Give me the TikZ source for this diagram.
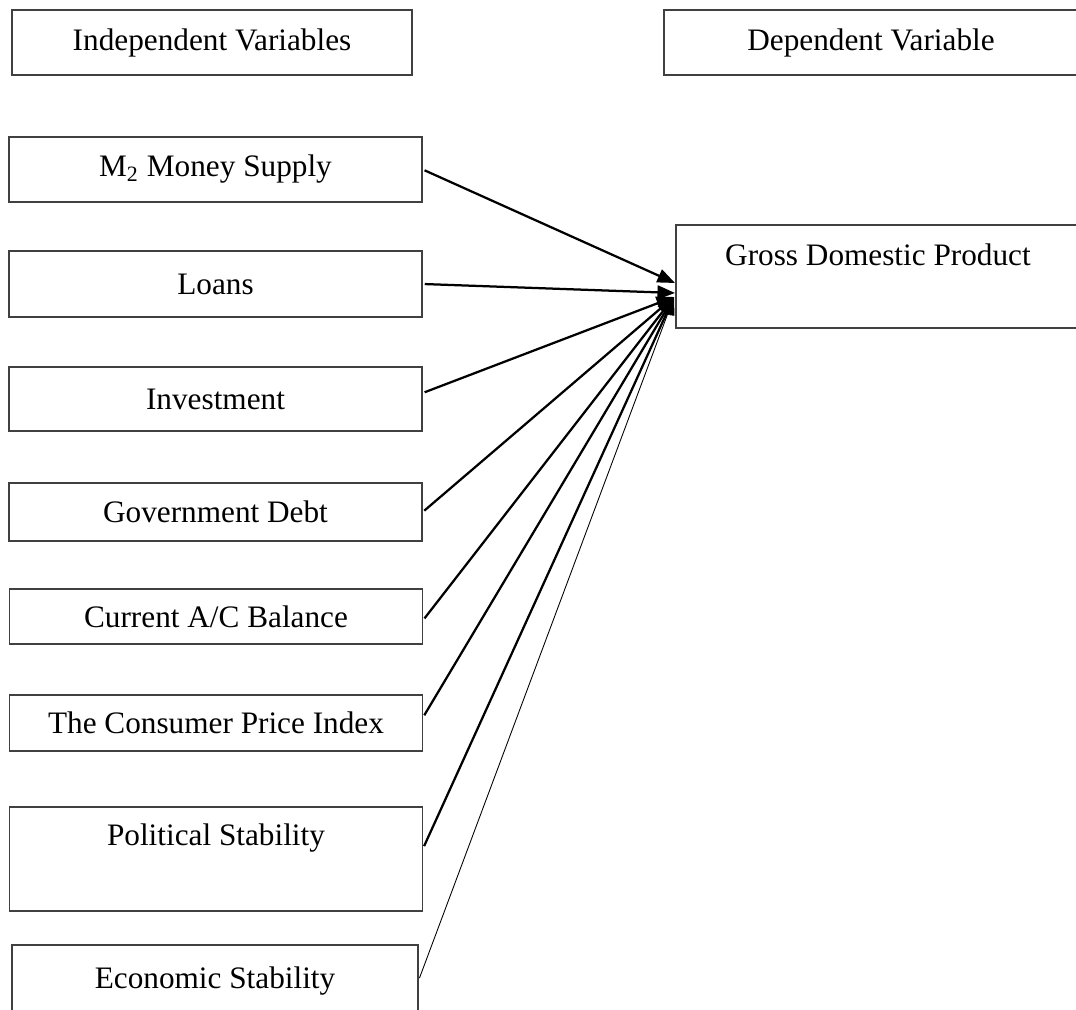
\documentclass[tikz,border=0pt]{standalone}
\usepackage{fontspec}
\setmainfont{Liberation Serif}
\usepackage{tikz}
\usetikzlibrary{arrows.meta}

\begin{document}
\begin{tikzpicture}[x=0.4pt, y=-0.4pt,
    every node/.style={font=\fontsize{12.5}{15}\selectfont},
    varbox/.style={draw=black!75, line width=0.6pt, inner sep=0pt, minimum width=165.2pt},
    topbox/.style={varbox, minimum height=26pt},
    flow/.style={line width=0.9pt, shorten <=0.8pt, -{Triangle[length=7pt, width=5.5pt]}}]
    \useasboundingbox (0,0) rectangle (1076,1010);
    % headings
    \node[topbox, minimum width=160pt] (indep) at (212,42.5) {Independent Variables};
    \node[topbox, minimum width=165.6pt] (dep) at (871,42.5) {Dependent Variable};
    % independent variables
    \node[varbox, minimum height=26pt] (m2) at (215.5,169.5) {M\textsubscript{2} Money Supply};
    \node[varbox, minimum height=26.4pt] (loans) at (215.5,284) {Loans};
    \node[varbox, minimum height=25.6pt] (invest) at (215.5,399) {Investment};
    \node[varbox, minimum height=23.2pt] (debt) at (215.5,512) {Government Debt};
    \node[varbox, minimum height=22pt] (account) at (216,616.5) {Current A/C Balance};
    \node[varbox, minimum height=22.4pt] (cpi) at (216,723) {The Consumer Price Index};
    \node[varbox, minimum height=41.6pt, text depth=19.2pt] (polstab) at (216,859) {Political Stability};
    \node[varbox, minimum width=162.4pt, minimum height=41.6pt, text depth=15.2pt] (ecostab) at (215,997) {Economic Stability};
    % dependent variable
    \node[varbox, minimum width=161.6pt, minimum height=41.2pt, text depth=17.2pt] (gdp) at (878,276.5) {Gross Domestic Product};
    % arrow ends at the gdp box
    \coordinate (tipa) at (675,283);
    \coordinate (tipb) at (675,293);
    \coordinate (hub) at (674,297);
    \draw[flow] (m2.east) -- (tipa);
    \draw[flow] (loans.east) -- (tipb);
    \draw[flow] ([yshift=2.4pt]invest.east) -- (hub);
    \draw[flow] (debt.east) -- (hub);
    \draw[flow] ([yshift=-1.4pt]account.east) -- (hub);
    \draw[flow] ([yshift=2.4pt]cpi.east) -- (hub);
    \draw[flow] ([yshift=4.4pt]polstab.east) -- (hub);
    \draw[flow, line width=0.35pt] ([yshift=6.8pt]ecostab.east) -- (hub);
\end{tikzpicture}
\end{document}
